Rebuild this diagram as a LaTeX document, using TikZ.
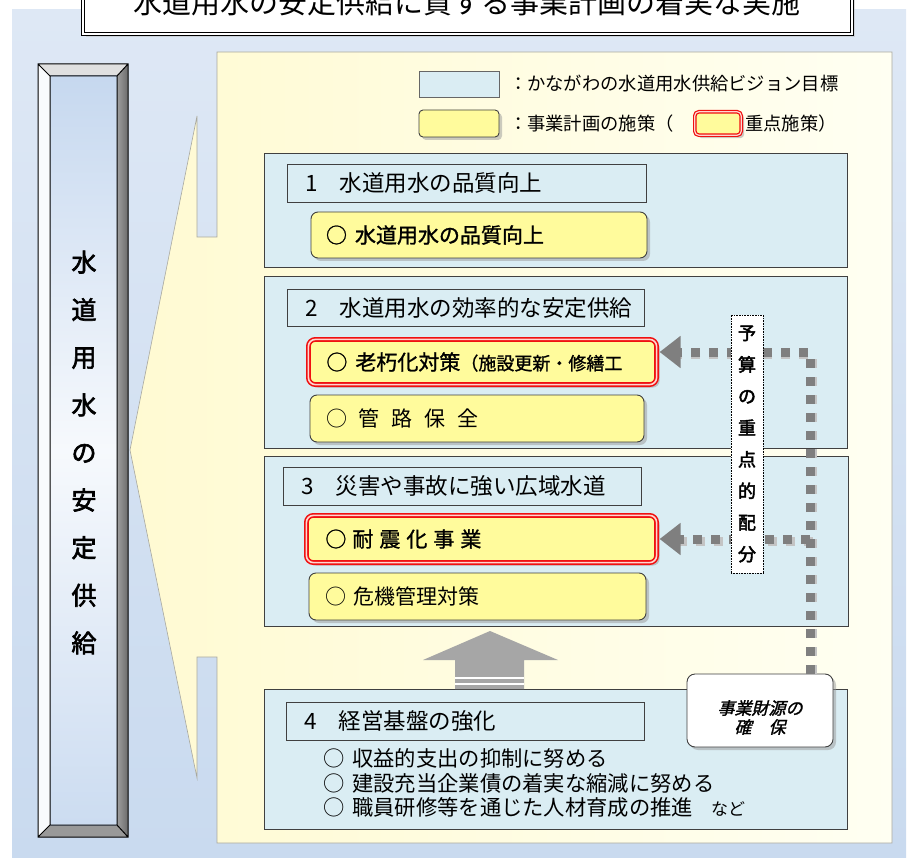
\documentclass[tikz,border=0pt]{standalone}
\usepackage{fontspec}
\setmainfont{Noto Sans CJK JP}
\newfontfamily\jpbold[FakeBold=2.5]{Noto Sans CJK JP}
\newfontfamily\jpmed[FakeBold=1.2]{Noto Sans CJK JP}
\newfontfamily\jpslant[FakeBold=1.5,FakeSlant=0.25]{Noto Sans CJK JP}
\usepackage{tikz}
\usetikzlibrary{arrows.meta, shadows, calc}

\definecolor{bgtop}{HTML}{DEE8F5}
\definecolor{bgbottom}{HTML}{C9DAEF}
\definecolor{bgouter}{HTML}{C6D8EF}
\definecolor{callL}{HTML}{FFFAD2}
\definecolor{callR}{HTML}{FFFFF2}
\definecolor{callline}{HTML}{A8A8A0}
\definecolor{goalblue}{HTML}{DAEDF3}
\definecolor{planyl}{HTML}{FFFB9C}
\definecolor{boxline}{HTML}{404040}
\definecolor{keyred}{HTML}{F01010}
\definecolor{keypink}{HTML}{FFD6D0}
\definecolor{dotgray}{HTML}{7F7F7F}
\definecolor{dotshadow}{HTML}{C4C4C4}
\definecolor{arrowgray}{HTML}{A6A6A6}
\newcommand\fsz[1]{\fontsize{#1}{#1}\selectfont}

\begin{document}
\begin{tikzpicture}[
            x = 1pt,
            y = -1pt,
            > = {Triangle[length=21pt,width=31pt]},
            every node/.style = {inner sep=0pt, outer sep=0pt}
        ]
        \tikzstyle{goalbox}=[
            draw = boxline,
            fill = goalblue,
            line width = 0.9pt,
            anchor = north west
        ]
        \tikzstyle{planbox}=[
            draw = boxline,
            fill = planyl,
            line width = 0.9pt,
            rounded corners = 7pt,
            anchor = north west,
            drop shadow = {shadow xshift=3pt, shadow yshift=-3pt, fill=black!40}
        ]
        \tikzstyle{keybox}=[planbox, draw=keyred, line width=1.6pt, double=keypink, double distance=1.6pt]
        \tikzstyle{headtext}=[anchor=west, font=\fsz{22.5}]
        \tikzstyle{itemtext}=[anchor=west, font={\jpmed\fsz{21}\spaceskip=8pt\relax}]
        \tikzstyle{plaintext}=[anchor=west, font={\fsz{21.3}\spaceskip=8pt\relax}]
        \tikzstyle{legtext}=[anchor=west, font=\fsz{18.3}]
        \tikzstyle{budgetline}=[line width=9pt, dash pattern=on 9pt off 9pt]

        \useasboundingbox (0,0) rectangle (912,858);
        \shade[top color=bgtop, bottom color=bgbottom] (12,10) rectangle (906,858);

        % title
        \node[draw=black, fill=white, line width=0.9pt, double=white, double distance=1.6pt,
              anchor=north west, minimum width=769, minimum height=50,
              drop shadow={shadow xshift=3pt, shadow yshift=-3pt, fill=black!25}] (title) at (83,-16) {};
        \node[font=\fsz{29}] (titletext) at (467,3) {水道用水の安定供給に資する事業計画の着実な実施};

        % callout
        \shadedraw[left color=callL, right color=callR, draw=callline, line width=0.6pt]
            (217,52) -- (892,52) -- (892,843) -- (217,843) -- (217,657) -- (197,657) -- (197,778)
            -- (130,450) -- (197,116) -- (197,237) -- (217,237) -- cycle;

        % pillar
        \fill[black!12] (38,64) -- (128,64) -- (117,76) -- (50,76) -- cycle;
        \fill[white!90!bgouter] (38,64) -- (50,76) -- (50,825) -- (38,837) -- cycle;
        \shade[left color=black!38, right color=black!58] (128,64) -- (117,76) -- (117,825) -- (128,837) -- cycle;
        \fill[black!40] (38,837) -- (50,825) -- (117,825) -- (128,837) -- cycle;
        \shade[top color=bgouter, bottom color=bgouter!90!white, middle color=white!85!bgouter] (50,76) rectangle (117,825);
        \draw[line width=1pt] (38,64) rectangle (128,837) (50,76) rectangle (117,825)
            (38,64) -- (50,76) (128,64) -- (117,76) (38,837) -- (50,825) (128,837) -- (117,825);
        \node[font=\jpbold\fontsize{25}{47.6}\selectfont, align=center] (pillartext) at (84,452.5)
            {水\\道\\用\\水\\の\\安\\定\\供\\給};

        % legend
        \node[goalbox, draw=black!60, minimum width=80, minimum height=26] (legA) at (419,71) {};
        \node[legtext] (legAtext) at ([xshift=10pt]legA.east) {：かながわの水道用水供給ビジョン目標};
        \node[planbox, minimum width=80, minimum height=27, rounded corners=4pt] (legB) at (419,110) {};
        \node[legtext] (legBtext) at ([xshift=10pt]legB.east) {：事業計画の施策（};
        \node[keybox, line width=1.2pt, double distance=1.2pt, minimum width=46.4, minimum height=23.4,
              rounded corners=4pt] (legC) at (694.8,111.8) {};
        \node[legtext] (legCtext) at ([xshift=4pt]legC.east) {重点施策）};

        % 1
        \node[goalbox, minimum width=583, minimum height=114] (goal1) at (264,153) {};
        \node[goalbox, minimum width=359, minimum height=38] (head1) at (287,164) {};
        \node[headtext] (head1text) at ([xshift=18pt]head1.west) {1　水道用水の品質向上};
        \node[planbox, minimum width=336, minimum height=46] (plan1) at (311,212) {};
        \node[itemtext] (plan1text) at ([xshift=15pt]plan1.west) {○ 水道用水の品質向上};

        % 2
        \node[goalbox, minimum width=583, minimum height=172] (goal2) at (264,276) {};
        \node[goalbox, minimum width=357, minimum height=37] (head2) at (287,289) {};
        \node[headtext] (head2text) at ([xshift=18pt]head2.west) {2　水道用水の効率的な安定供給};
        \node[keybox, minimum width=348.2, minimum height=45.2] (key2) at (308.4,339.4) {};
        \node[itemtext] (key2text) at ([xshift=18pt]key2.west) {○ 老朽化対策{\fsz{18}（施設更新・修繕工}};
        \node[planbox, minimum width=334, minimum height=47] (plan2) at (310,395) {};
        \node[plaintext, font={\fsz{21}\spaceskip=12pt\relax}] (plan2text) at ([xshift=16pt]plan2.west) {○ 管 路 保 全};

        % 3
        \node[goalbox, minimum width=584, minimum height=170] (goal3) at (264,456) {};
        \node[goalbox, minimum width=358, minimum height=38] (head3) at (283,467) {};
        \node[headtext] (head3text) at ([xshift=18pt]head3.west) {3　災害や事故に強い広域水道};
        \node[keybox, minimum width=350.2, minimum height=47.2] (key3) at (306.4,515.4) {};
        \node[itemtext, font={\jpmed\fsz{21}\spaceskip=6pt\relax}] (key3text) at ([xshift=19pt]key3.west) {○ 耐 震 化 事 業};
        \node[planbox, minimum width=337, minimum height=47] (plan3) at (309,573) {};
        \node[plaintext, font={\fsz{21}\spaceskip=8pt\relax}] (plan3text) at ([xshift=16pt]plan3.west) {○ 危機管理対策};

        % 4
        \node[goalbox, minimum width=583, minimum height=140] (goal4) at (264,689) {};
        \node[goalbox, minimum width=358, minimum height=38] (head4) at (286,702) {};
        \node[headtext] (head4text) at ([xshift=18pt]head4.west) {4　経営基盤の強化};
        \node[plaintext] (item1) at (323,758) {○ 収益的支出の抑制に努める};
        \node[plaintext] (item2) at (323,783) {○ 建設充当企業債の着実な縮減に努める};
        \node[plaintext] (item3) at (323,807) {○ 職員研修等を通じた人材育成の推進\hspace{18pt}{\fsz{17}など}};

        % funds
        \node[draw=boxline, fill=white, line width=0.9pt, rounded corners=8pt, anchor=north west,
              minimum width=146, minimum height=73,
              drop shadow={shadow xshift=3pt, shadow yshift=-3pt, fill=black!40}] (zaigen) at (687,674) {};
        \node[font=\jpslant\fontsize{17}{19}\selectfont, align=center] (zaigentext)
            at ([yshift=-7pt]zaigen.center) {事業財源の\\確　保};

        % up arrow
        \coordinate (upfoot) at (490,689);
        \begin{scope}[shift={(upfoot)}]
            \fill[arrowgray] (-35,0) -- (-35,-29) -- (-67,-29) -- (0,-58) -- (68,-29) -- (34,-29) -- (34,0) -- cycle;
            \draw[white, line width=1.5pt] (-35,-11) -- (34,-11) (-35,-5) -- (34,-5);
        \end{scope}

        % budget arrows
        \coordinate (fund) at ([xshift=50pt]zaigen.north);
        \draw[budgetline, draw=dotshadow, shorten <=3pt, shorten >=20pt, transform canvas={shift={(2.5pt,-2.5pt)}}]
            (fund) |- ([yshift=10pt]key2.east);
        \draw[budgetline, draw=dotshadow, shorten >=20pt, transform canvas={shift={(2.5pt,-2.5pt)}}]
            (fund |- key3.east) -- (key3.east);
        \draw[budgetline, draw=dotgray, ->] (fund) |- ([xshift=3pt, yshift=10pt]key2.east);
        \draw[budgetline, draw=dotgray, ->] (fund |- key3.east) -- ([xshift=3pt]key3.east);

        \node[draw=black, densely dotted, line width=0.6pt, fill=white, minimum width=32, minimum height=258,
              font=\jpbold\fontsize{18}{31.6}\selectfont, align=center] (budget) at (747,444)
            {予\\算\\の\\重\\点\\的\\配\\分};
\end{tikzpicture}
\end{document}
